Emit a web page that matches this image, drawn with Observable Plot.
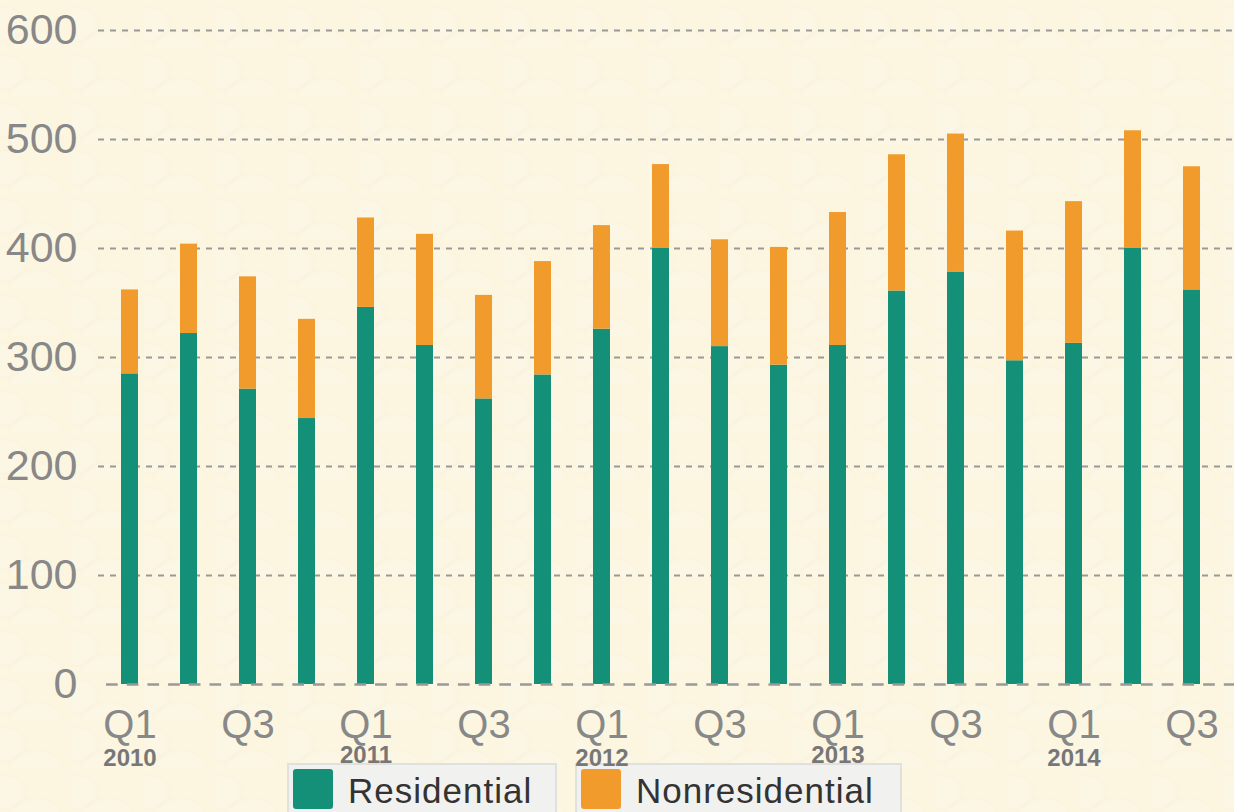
<!DOCTYPE html>
<html>
<head>
<meta charset="utf-8">
<script src="https://cdn.jsdelivr.net/npm/d3@7"></script>
<script src="https://cdn.jsdelivr.net/npm/@observablehq/plot@0.6"></script>
<style>
  html, body { margin: 0; padding: 0; }
  body {
    width: 1234px; height: 812px; overflow: hidden; position: relative;
    background-color: #fcf6e1;
    background-image:
      radial-gradient(ellipse 36px 24px at 50% 100%, rgba(255,255,255,0.12) 60%, rgba(0,0,0,0.008) 75%, transparent 80%),
      radial-gradient(ellipse 36px 24px at 0% 50%, rgba(255,255,255,0.1) 60%, rgba(0,0,0,0.006) 75%, transparent 80%);
    background-size: 72px 48px, 72px 48px;
    font-family: "Liberation Sans", Arial, Helvetica, sans-serif;
  }
  #chart { position: absolute; left: 0; top: 0; z-index: 2; pointer-events: none; }
  #legend { position: absolute; left: 0; top: 0; z-index: 1; }
  .legend-item {
    position: absolute; top: 763px; height: 60px; box-sizing: border-box;
    background: #f1f1f0; border: 2px solid #e0e0de; border-bottom: none;
  }
  .legend-item .sw {
    position: absolute; left: 4px; top: 4px; width: 40px; height: 40px; border-radius: 3px;
  }
  .legend-item .lb {
    position: absolute; top: 8px; font-size: 35px; line-height: 35px; letter-spacing: 1px; color: #333;
    white-space: nowrap;
  }
</style>
</head>
<body>
<div id="legend"></div>
<div id="chart"></div>
<script>
// ---- data ----
const years = [2010, 2010, 2010, 2010, 2011, 2011, 2011, 2011, 2012, 2012, 2012, 2012, 2013, 2013, 2013, 2013, 2014, 2014, 2014];
const quarters = ["Q1","Q2","Q3","Q4","Q1","Q2","Q3","Q4","Q1","Q2","Q3","Q4","Q1","Q2","Q3","Q4","Q1","Q2","Q3"];
const residential = [285, 322, 271, 244, 346, 311, 262, 284, 326, 400, 310, 293, 311, 361, 378, 297, 313, 400, 362];
const nonresidential = [77, 82, 103, 91, 82, 102, 95, 104, 95, 77, 98, 108, 122, 125, 127, 119, 130, 108, 113];
const seriesNames = ["Residential", "Nonresidential"];
const seriesColors = ["#149078", "#f29b2d"];
const yTicks = [0, 100, 200, 300, 400, 500, 600];

// ---- build tables ----
const keys = years.map((y, i) => `${y} ${quarters[i]}`);
const rows = [];
keys.forEach((k, i) => {
  rows.push({key: k, series: seriesNames[0], value: residential[i]});
  rows.push({key: k, series: seriesNames[1], value: nonresidential[i]});
});
const labelKeys = keys.filter((k, i) => i % 2 === 0);
const yearRows = keys.map((k, i) => ({key: k, year: String(years[i]), q: quarters[i]})).filter(d => d.q === "Q1");
const yearsA = yearRows.filter((d, i) => i % 2 === 0);
const yearsB = yearRows.filter((d, i) => i % 2 === 1);

const chart = Plot.plot({
  width: 1234,
  height: 812,
  marginLeft: 100,
  marginRight: 13,
  marginTop: 30,
  marginBottom: 128,
  style: {background: "transparent", color: "#888", fontFamily: "'Liberation Sans', Arial, Helvetica, sans-serif", overflow: "visible"},
  x: {type: "band", domain: keys, paddingInner: 0.71, paddingOuter: 0.355, axis: null},
  y: {domain: [0, 600], axis: null},
  color: {domain: seriesNames, range: seriesColors},
  marks: [
    Plot.ruleY(yTicks.filter(d => d > 0), {stroke: "#999", strokeWidth: 2, strokeDasharray: "6,6", insetLeft: -2, insetRight: -13}),
    Plot.barY(rows, {x: "key", y: "value", fill: "series", order: seriesNames}),
    Plot.ruleY([0], {stroke: "#999", strokeWidth: 2.7, strokeDasharray: "11.7,9", strokeDashoffset: 14.7, insetRight: -13}),
    Plot.axisY({ticks: yTicks, tickSize: 0, tickPadding: 23, fontSize: 43, label: null}),
    Plot.axisX({ticks: labelKeys, tickFormat: k => k.split(" ")[1], tickSize: 0, tickPadding: 25, fontSize: 40, label: null}),
    Plot.text(yearsA, {x: "key", text: "year", frameAnchor: "bottom", lineAnchor: "middle", dy: 74, fontSize: 24, fontWeight: "bold", fill: "#777"}),
    Plot.text(yearsB, {x: "key", text: "year", frameAnchor: "bottom", lineAnchor: "middle", dy: 71, fontSize: 24, fontWeight: "bold", fill: "#777"})
  ]
});
document.getElementById("chart").appendChild(chart);

// ---- legend ----
const legendBoxes = [{left: 287, width: 270}, {left: 575, width: 327}];
const legend = document.getElementById("legend");
seriesNames.forEach((name, i) => {
  const item = document.createElement("div");
  item.className = "legend-item";
  item.style.left = legendBoxes[i].left + "px";
  item.style.width = legendBoxes[i].width + "px";
  const sw = document.createElement("div");
  sw.className = "sw";
  sw.style.background = seriesColors[i];
  const lb = document.createElement("div");
  lb.className = "lb";
  lb.style.left = "59px";
  lb.textContent = name;
  item.appendChild(sw);
  item.appendChild(lb);
  legend.appendChild(item);
});
</script>
</body>
</html>
